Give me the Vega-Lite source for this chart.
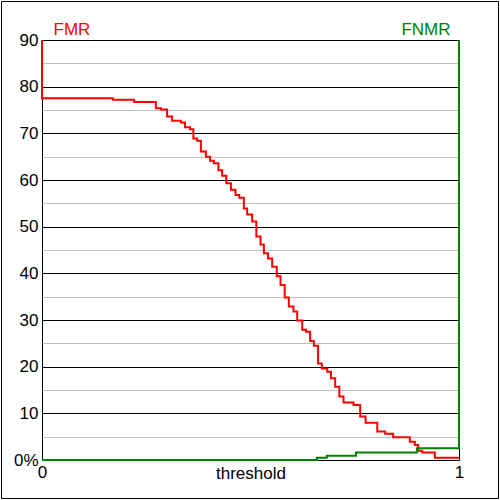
{
  "$schema": "https://vega.github.io/schema/vega-lite/v6.json",
  "width": 417,
  "height": 420,
  "autosize": {"type": "none"},
  "padding": {"left": 42, "top": 40, "right": 41, "bottom": 40},
  "background": "white",
  "config": {
    "view": {"stroke": "black", "strokeWidth": 1},
    "font": "Liberation Sans",
    "axis": {"labelFont": "Liberation Sans", "titleFont": "Liberation Sans", "labelColor": "black", "titleColor": "black", "titleFontWeight": "normal"}
  },
  "datasets": {
    "fmr": [
      {"i": 0, "t": 0, "v": 90},
      {"i": 1, "t": 0, "v": 77.5},
      {"i": 2, "t": 0.170, "v": 77.2},
      {"i": 3, "t": 0.221, "v": 76.7},
      {"i": 4, "t": 0.273, "v": 75.4},
      {"i": 5, "t": 0.285, "v": 75.1},
      {"i": 6, "t": 0.300, "v": 73.6},
      {"i": 7, "t": 0.312, "v": 72.7},
      {"i": 8, "t": 0.333, "v": 72.3},
      {"i": 9, "t": 0.343, "v": 71.3},
      {"i": 10, "t": 0.355, "v": 70.9},
      {"i": 11, "t": 0.363, "v": 68.9},
      {"i": 12, "t": 0.372, "v": 68.4},
      {"i": 13, "t": 0.381, "v": 66.1},
      {"i": 14, "t": 0.393, "v": 65.0},
      {"i": 15, "t": 0.403, "v": 64.1},
      {"i": 16, "t": 0.412, "v": 63.6},
      {"i": 17, "t": 0.423, "v": 62.1},
      {"i": 18, "t": 0.432, "v": 60.9},
      {"i": 19, "t": 0.442, "v": 59.3},
      {"i": 20, "t": 0.453, "v": 57.9},
      {"i": 21, "t": 0.464, "v": 56.8},
      {"i": 22, "t": 0.473, "v": 56.2},
      {"i": 23, "t": 0.484, "v": 53.9},
      {"i": 24, "t": 0.492, "v": 52.6},
      {"i": 25, "t": 0.504, "v": 51.1},
      {"i": 26, "t": 0.514, "v": 47.9},
      {"i": 27, "t": 0.524, "v": 46.2},
      {"i": 28, "t": 0.532, "v": 44.3},
      {"i": 29, "t": 0.542, "v": 43.2},
      {"i": 30, "t": 0.552, "v": 41.4},
      {"i": 31, "t": 0.563, "v": 39.4},
      {"i": 32, "t": 0.572, "v": 37.5},
      {"i": 33, "t": 0.582, "v": 34.8},
      {"i": 34, "t": 0.592, "v": 32.9},
      {"i": 35, "t": 0.603, "v": 31.8},
      {"i": 36, "t": 0.612, "v": 29.9},
      {"i": 37, "t": 0.624, "v": 27.9},
      {"i": 38, "t": 0.633, "v": 27.5},
      {"i": 39, "t": 0.643, "v": 25.5},
      {"i": 40, "t": 0.652, "v": 24.5},
      {"i": 41, "t": 0.662, "v": 20.7},
      {"i": 42, "t": 0.671, "v": 19.6},
      {"i": 43, "t": 0.684, "v": 18.9},
      {"i": 44, "t": 0.693, "v": 17.5},
      {"i": 45, "t": 0.703, "v": 15.7},
      {"i": 46, "t": 0.713, "v": 13.6},
      {"i": 47, "t": 0.723, "v": 12.3},
      {"i": 48, "t": 0.747, "v": 11.8},
      {"i": 49, "t": 0.763, "v": 9.3},
      {"i": 50, "t": 0.776, "v": 8.0},
      {"i": 51, "t": 0.804, "v": 6.1},
      {"i": 52, "t": 0.823, "v": 5.6},
      {"i": 53, "t": 0.842, "v": 4.9},
      {"i": 54, "t": 0.882, "v": 3.9},
      {"i": 55, "t": 0.894, "v": 3.2},
      {"i": 56, "t": 0.902, "v": 2.0},
      {"i": 57, "t": 0.912, "v": 1.6},
      {"i": 58, "t": 0.942, "v": 0.5},
      {"i": 59, "t": 1.0, "v": 0.5}
    ],
    "fnmr": [
      {"i": 0, "t": 0, "v": 0},
      {"i": 1, "t": 0.659, "v": 0.5},
      {"i": 2, "t": 0.683, "v": 0.9},
      {"i": 3, "t": 0.753, "v": 1.6},
      {"i": 4, "t": 0.899, "v": 2.5},
      {"i": 5, "t": 1.0, "v": 2.5},
      {"i": 6, "t": 1.0, "v": 90}
    ]
  },
  "resolve": {"axis": {"x": "independent", "y": "independent"}},
  "layer": [
    {
      "data": {"name": "fmr"},
      "mark": {"type": "line", "interpolate": "step-after", "color": "#ff0000", "strokeWidth": 2, "clip": false},
      "encoding": {
        "x": {
          "field": "t", "type": "quantitative",
          "scale": {"domain": [0, 1], "nice": false, "zero": false},
          "axis": {
            "values": [0, 1], "format": "d", "grid": false, "domain": false, "ticks": false, "tickSize": 0,
            "labelFontSize": 17, "labelPadding": 17, "labelBaseline": "alphabetic", "labelFlush": false,
            "title": "threshold", "titleFontSize": 17, "titleBaseline": "alphabetic", "titleY": 18
          }
        },
        "y": {
          "field": "v", "type": "quantitative",
          "scale": {"domain": [0, 90], "nice": false, "zero": false},
          "axis": {
            "values": [0, 5, 10, 15, 20, 25, 30, 35, 40, 45, 50, 55, 60, 65, 70, 75, 80, 85, 90],
            "format": "d",
            "labelExpr": "datum.value % 10 === 0 ? (datum.value === 0 ? '0%' : datum.label) : ''",
            "grid": true,
            "gridColor": {"condition": {"test": "datum.value % 10 === 0", "value": "black"}, "value": "#c0c0c0"},
            "gridWidth": 1,
            "domain": false, "ticks": false, "tickSize": 0,
            "labelFontSize": 17, "labelPadding": 4, "labelBaseline": "middle",
            "title": "FMR", "titleColor": "#ff0000", "titleFontSize": 17, "titleAngle": 0,
            "titleAlign": "left", "titleBaseline": "alphabetic", "titleX": 11, "titleY": -6
          }
        },
        "order": {"field": "i"}
      }
    },
    {
      "data": {"name": "fnmr"},
      "mark": {"type": "line", "interpolate": "step-after", "color": "#008000", "strokeWidth": 2, "clip": false},
      "encoding": {
        "x": {"field": "t", "type": "quantitative", "axis": null},
        "y": {
          "field": "v", "type": "quantitative",
          "axis": {
            "orient": "right", "labels": false, "ticks": false, "domain": false, "grid": false,
            "title": "FNMR", "titleColor": "#008000", "titleFontSize": 17, "titleAngle": 0,
            "titleAlign": "right", "titleBaseline": "alphabetic", "titleX": -9, "titleY": -6
          }
        },
        "order": {"field": "i"}
      }
    },
    {
      "data": {"values": [{}]},
      "mark": {"type": "rect", "filled": false, "stroke": "black", "strokeWidth": 1, "clip": false},
      "encoding": {
        "x": {"datum": -0.0971, "type": "quantitative", "axis": null},
        "x2": {"datum": 1.0947},
        "y": {"datum": 98.25, "type": "quantitative", "axis": null},
        "y2": {"datum": -8.25}
      }
    }
  ]
}
